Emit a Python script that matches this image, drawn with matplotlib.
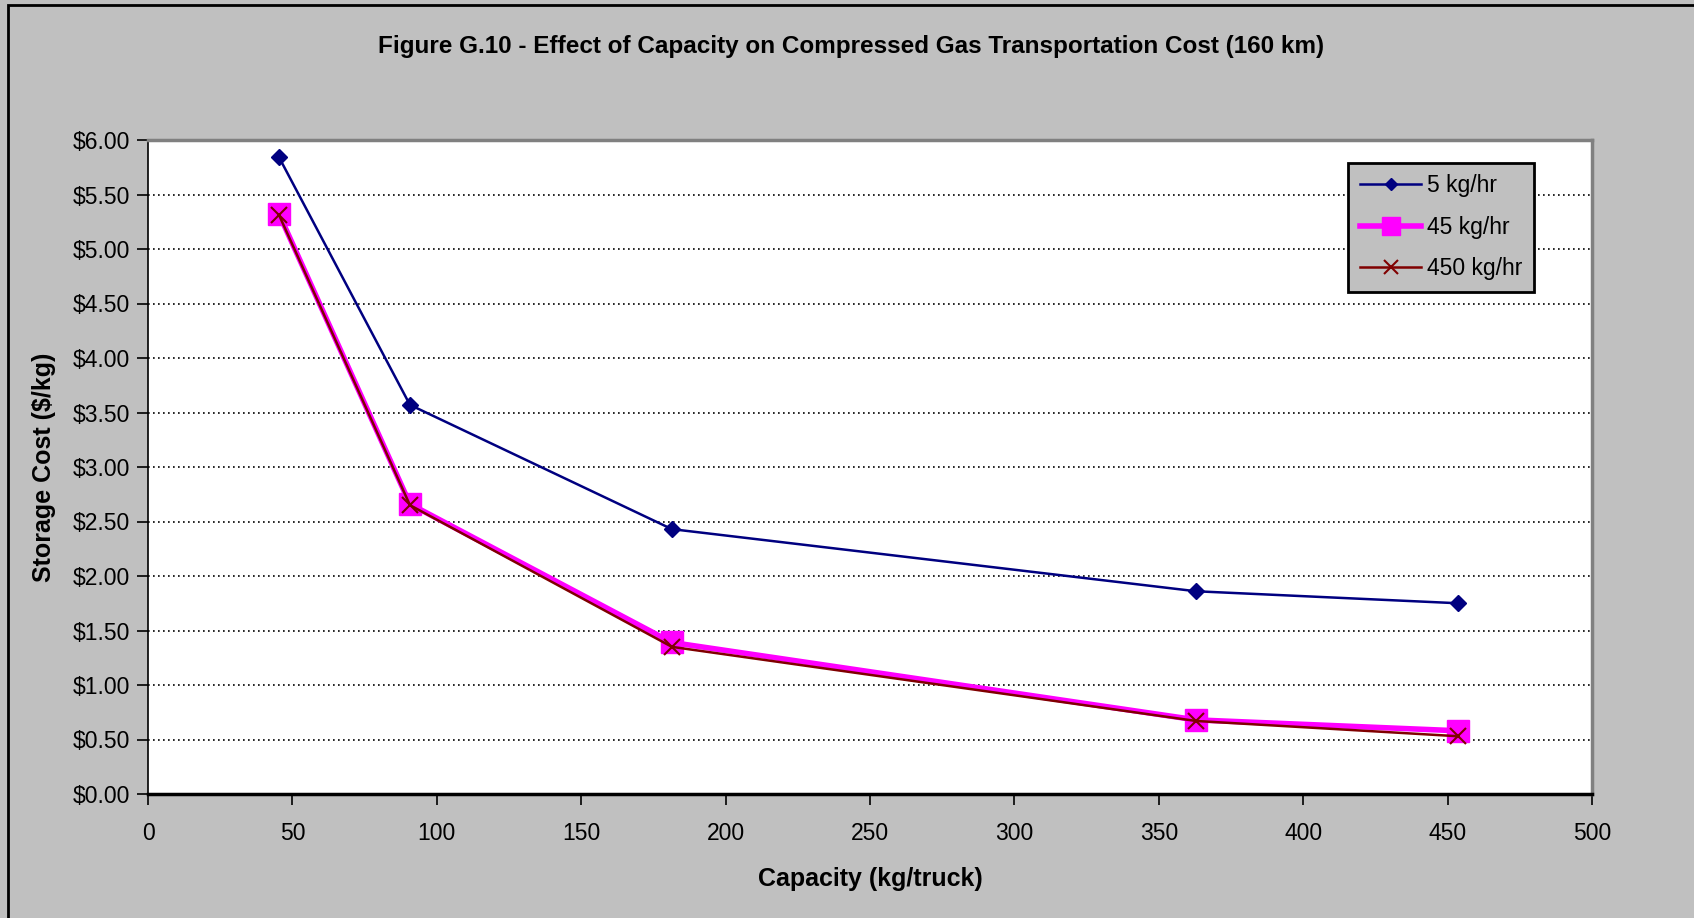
import matplotlib.pyplot as plt
from matplotlib.ticker import FuncFormatter
from matplotlib.patches import Rectangle

plt.rcParams['font.family'] = ['Liberation Sans', 'DejaVu Sans']

# capacity in kg per truck
capacity = [45.4, 90.7, 181.4, 362.9, 453.6]
cost_5 = [5.84, 3.57, 2.43, 1.86, 1.75]
cost_45 = [5.32, 2.66, 1.39, 0.68, 0.58]
cost_450 = [5.31, 2.65, 1.35, 0.67, 0.53]
labels = ['5 kg/hr', '45 kg/hr', '450 kg/hr']

gray = '#c0c0c0'
fig = plt.figure(figsize=(16.94, 9.18), dpi=100, facecolor=gray)
ax = fig.add_axes([148 / 1694, 1 - 794 / 918, (1592 - 148) / 1694, (794 - 140) / 918])
ax.set_facecolor('white')

# outer frame of the chart
fig.patches.append(Rectangle((8 / 1694, -0.01), 1.0, 1 - 5 / 918 + 0.01, transform=fig.transFigure,
                             fill=False, edgecolor='black', linewidth=2))

ax.plot(capacity, cost_5, color='#000080', lw=1.8, marker='D', ms=8,
        markerfacecolor='#000080', markeredgecolor='#000080', label=labels[0], zorder=3)
ax.plot(capacity, cost_45, color='#ff00ff', lw=4, marker='s', ms=16,
        markerfacecolor='#ff00ff', markeredgecolor='#ff00ff', label=labels[1], zorder=4)
ax.plot(capacity, cost_450, color='#800000', lw=1.8, marker='x', ms=12, mew=1.5,
        label=labels[2], zorder=5)

ax.set_xlim(0, 500)
ax.set_ylim(0, 6)
ax.set_xticks(range(0, 501, 50))
ax.set_yticks([i * 0.5 for i in range(13)])
ax.yaxis.set_major_formatter(FuncFormatter(lambda v, p: '${:.2f}'.format(v)))
ax.grid(axis='y', color='black', linestyle=(0, (1, 2)), linewidth=1.2)
ax.set_axisbelow(True)

for s in ['top', 'right']:
    ax.spines[s].set_color('#808080')
    ax.spines[s].set_linewidth(2.5)
ax.spines['bottom'].set_linewidth(2.5)
ax.spines['left'].set_linewidth(1.2)
ax.tick_params(axis='both', direction='out', length=8, width=1.2, labelsize=16.5, pad=5)
ax.tick_params(axis='x', pad=12)

ax.set_xlabel('Capacity (kg/truck)', fontsize=18, fontweight='bold', labelpad=16)
ax.set_ylabel('Storage Cost ($/kg)', fontsize=18, fontweight='bold', labelpad=12)
fig.text(851 / 1694, 1 - 46 / 918,
         'Figure G.10 - Effect of Capacity on Compressed Gas Transportation Cost (160 km)',
         ha='center', va='center', fontsize=17.5, fontweight='bold')

leg = ax.legend(loc='upper right', bbox_to_anchor=(1534 / 1694, 1 - 163 / 918),
                bbox_transform=fig.transFigure, fontsize=16.5, markerscale=0.8,
                frameon=True, fancybox=False, facecolor=gray, edgecolor='black',
                borderpad=0.5, labelspacing=0.8, handlelength=2.7, handletextpad=0.25,
                borderaxespad=0)
leg.get_frame().set_linewidth(2)
leg.get_frame().set_alpha(1)

fig.savefig('out.png', dpi=100, facecolor=gray)
